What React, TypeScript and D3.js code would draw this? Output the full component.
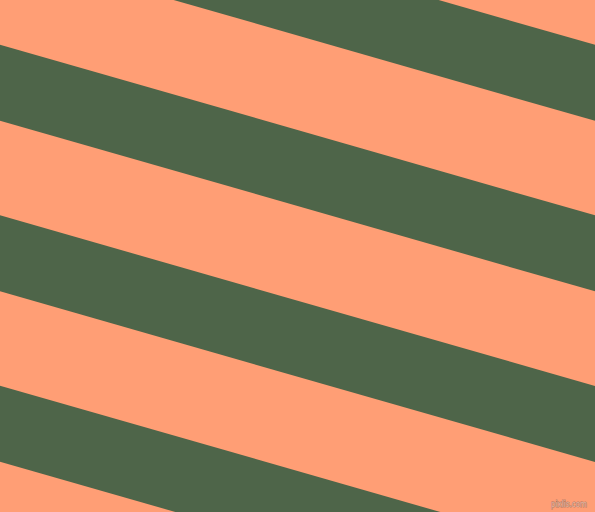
import { useRef, useEffect } from 'react'
import * as d3 from 'd3'

// green band top edge at the left border (px), one period apart
const bandStarts = [-125.8, 44.7, 215.3, 385.7]
const bandWidth = 76
const slope = 0.2868
const colors = { light: '#FF9E75', dark: '#4E6549' }
const watermark = 'pixlis.com'

const W = 595
const H = 512

export default function App() {
  const svgRef = useRef<SVGSVGElement>(null)

  useEffect(() => {
    document.body.style.margin = '0'
    if (!svgRef.current) return
    const svg = d3.select(svgRef.current)
    svg.selectAll('*').remove()

    const x = d3.scaleLinear().domain([0, W]).range([0, W])
    const yAt = (y0: number, xv: number) => y0 + slope * xv

    svg.append('rect')
      .attr('width', W)
      .attr('height', H)
      .attr('fill', colors.light)

    const area = d3.line<[number, number]>()

    svg.append('g')
      .selectAll('path')
      .data(bandStarts)
      .enter()
      .append('path')
      .attr('d', d => area([
        [x(0), yAt(d, 0)],
        [x(W), yAt(d, W)],
        [x(W), yAt(d + bandWidth, W)],
        [x(0), yAt(d + bandWidth, 0)],
      ]) + 'Z')
      .attr('fill', colors.dark)

    // small watermark, bottom right
    svg.append('text')
      .attr('x', 551)
      .attr('y', 507)
      .attr('textLength', 36)
      .attr('lengthAdjust', 'spacingAndGlyphs')
      .attr('font-family', 'DejaVu Sans, sans-serif')
      .attr('font-size', 9)
      .attr('fill', '#e6b6a0')
      .attr('stroke', '#a87664')
      .attr('stroke-width', 0.8)
      .attr('paint-order', 'stroke')
      .text(watermark)
  }, [])

  return <svg ref={svgRef} width={W} height={H} style={{ display: 'block' }} />
}
